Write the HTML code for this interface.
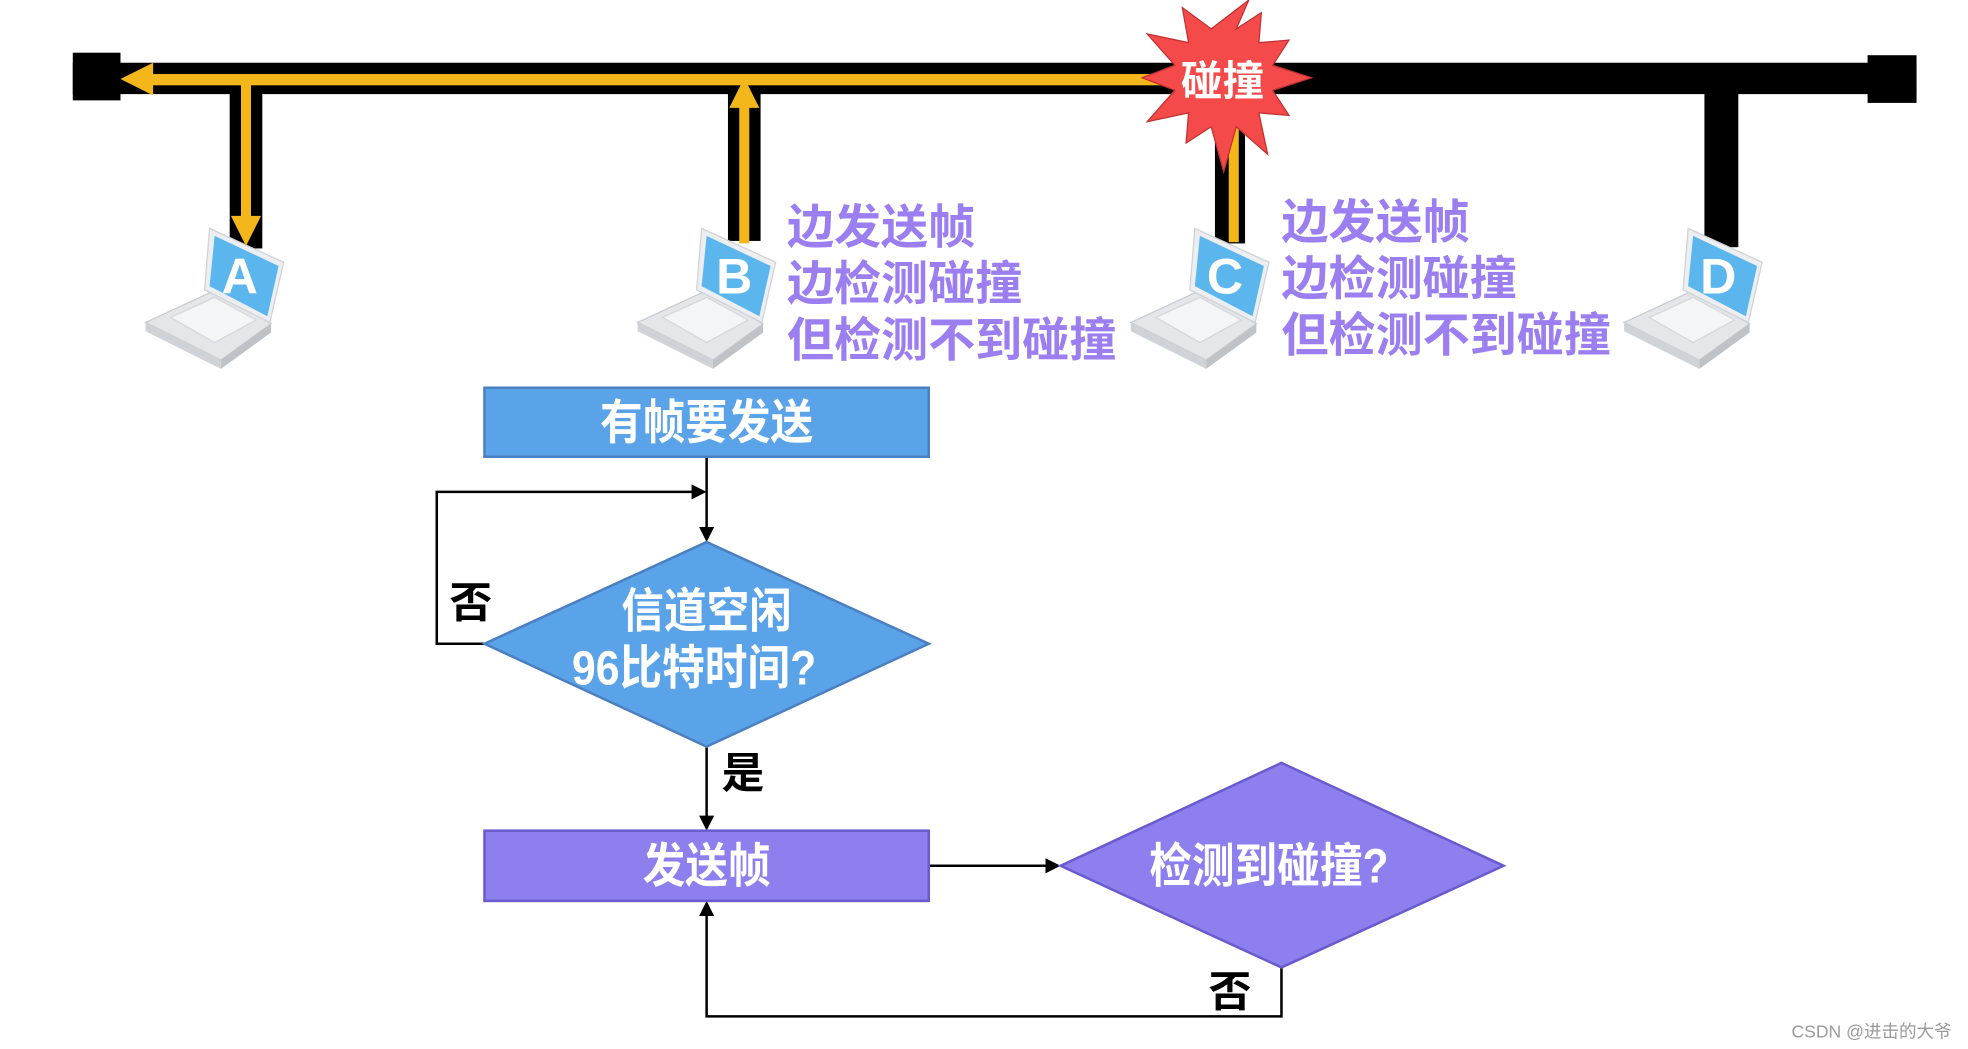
<!DOCTYPE html>
<html><head><meta charset="utf-8"><style>
html,body{margin:0;padding:0;background:#fff;width:1968px;height:1049px;overflow:hidden}
svg{display:block}
text{font-family:"Liberation Sans","Noto Sans CJK SC",sans-serif;font-weight:bold}
</style></head><body>
<svg width="1968" height="1049" viewBox="0 0 1568 836" preserveAspectRatio="none" xmlns="http://www.w3.org/2000/svg">
<defs>
<g id="lap">
  <polygon points="0,76 54,51 100,77 60,106" fill="#e4e6ea" stroke="#c8cacf" stroke-width="1"/>
  <polygon points="60,106 100,77 100,84 60,113" fill="#bfc2c7"/>
  <polygon points="0,76 60,106 60,113 0,83" fill="#cfd2d6"/>
  <polygon points="20,72 55,56 88,74 55,92" fill="#f4f5f7" stroke="#d5d7db"/>
  <polygon points="51,1 110,28 99,76 47,50" fill="#eceef1" stroke="#cfd2d6"/>
  <polygon points="55,7 106,31 97,71 51,47" fill="#5cb6ee"/>
</g>
</defs>
<rect x="58" y="50" width="1469" height="25" fill="#000"/>
<rect x="58" y="42" width="38" height="38" fill="#000"/>
<rect x="1488" y="44" width="39" height="38" fill="#000"/>
<rect x="183" y="62" width="26" height="136" fill="#000"/>
<rect x="580" y="62" width="26" height="130" fill="#000"/>
<rect x="968" y="62" width="24" height="132" fill="#000"/>
<rect x="1358" y="62" width="27" height="135" fill="#000"/>
<use href="#lap" x="116" y="181"/>
<use href="#lap" x="508" y="181"/>
<use href="#lap" x="901" y="181"/>
<use href="#lap" x="1294" y="181"/>
<rect x="118" y="59" width="815" height="9" fill="#f3b71b"/>
<polygon points="96,63 122,50 122,76" fill="#f3b71b"/>
<rect x="192" y="63" width="8" height="112" fill="#f3b71b"/>
<polygon points="184,172 208,172 196,196" fill="#f3b71b"/>
<rect x="589" y="82" width="8" height="112" fill="#f3b71b"/>
<polygon points="581,86 605,86 593,62" fill="#f3b71b"/>
<rect x="979" y="63" width="8" height="130" fill="#f3b71b"/>
<text x="191" y="234" font-size="40" fill="#fff" text-anchor="middle">A</text>
<text x="585" y="234" font-size="40" fill="#fff" text-anchor="middle">B</text>
<text x="976" y="234" font-size="40" fill="#fff" text-anchor="middle">C</text>
<text x="1369" y="234" font-size="40" fill="#fff" text-anchor="middle">D</text>
<polygon points="1045,62 1014,72 1027,92 1003,90 1010,123 985,101 975,137 965,101 945,114 947,90 914,97 936,72 910,62 936,52 914,27 947,34 942,6 965,23 995,0 985,23 1005,10 1003,34 1027,32 1014,52" fill="#f44a4a" stroke="#c03030" stroke-width="1"/>
<text x="974" y="76" font-size="33" fill="#fff" text-anchor="middle">碰撞</text>
<g font-size="37.5" fill="#9b7ff0">
<text x="627" y="194">边发送帧</text>
<text x="627" y="239">边检测碰撞</text>
<text x="627" y="284">但检测不到碰撞</text>
<text x="1021" y="190">边发送帧</text>
<text x="1021" y="235">边检测碰撞</text>
<text x="1021" y="280">但检测不到碰撞</text>
</g>
<g stroke="#000" stroke-width="2" fill="none">
<line x1="563" y1="364" x2="563" y2="422"/>
<polyline points="386,513 348,513 348,392 553,392"/>
<line x1="563" y1="595" x2="563" y2="652"/>
<line x1="740" y1="690" x2="835" y2="690"/>
<polyline points="1021,771 1021,810 563,810 563,728"/>
</g>
<g fill="#000">
<polygon points="557,420 569,420 563,432"/>
<polygon points="551,386 551,398 563,392"/>
<polygon points="557,650 569,650 563,662"/>
<polygon points="833,684 833,696 845,690"/>
<polygon points="557,730 569,730 563,718"/>
</g>
<rect x="386" y="309" width="354" height="55" fill="#5ba3e8" stroke="#4a80c2" stroke-width="2"/>
<text x="563" y="350" font-size="34" fill="#fff" text-anchor="middle" transform="translate(0,-42) scale(1,1.12)">有帧要发送</text>
<polygon points="386,513 563,432 740,513 563,595" fill="#5ba3e8" stroke="#4a80c2" stroke-width="2"/>
<text x="563" y="500" font-size="34" fill="#fff" text-anchor="middle" transform="translate(0,-60) scale(1,1.12)">信道空闲</text>
<text x="553" y="545" font-size="34" fill="#fff" text-anchor="middle" transform="translate(0,-65) scale(1,1.12)">96比特时间?</text>
<rect x="386" y="662" width="354" height="56" fill="#8e7fef" stroke="#6a5acd" stroke-width="2"/>
<text x="563" y="703" font-size="34" fill="#fff" text-anchor="middle" transform="translate(0,-84) scale(1,1.12)">发送帧</text>
<polygon points="845,690 1021,608 1198,690 1021,771" fill="#8e7fef" stroke="#6a5acd" stroke-width="2"/>
<text x="1011" y="703" font-size="34" fill="#fff" text-anchor="middle" transform="translate(0,-84) scale(1,1.12)">检测到碰撞?</text>
<text x="375" y="492" font-size="34" fill="#000" text-anchor="middle">否</text>
<text x="592" y="628" font-size="34" fill="#000" text-anchor="middle">是</text>
<text x="980" y="802" font-size="34" fill="#000" text-anchor="middle">否</text>
<text x="1555" y="827" font-size="14" fill="#9a9a9a" text-anchor="end" style="font-weight:normal">CSDN @进击的大爷</text>
</svg>
</body></html>
